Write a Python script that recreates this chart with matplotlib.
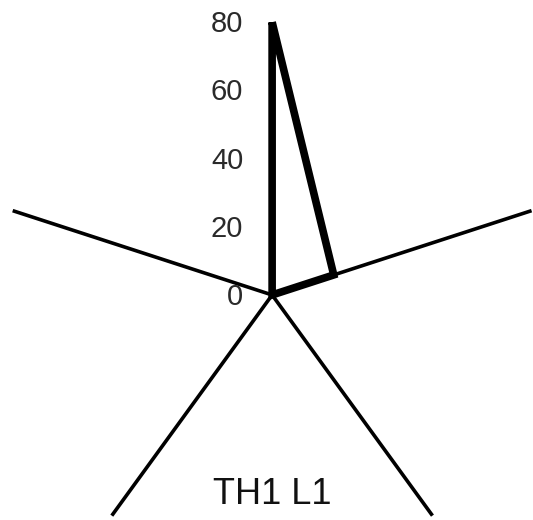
import numpy as np
import matplotlib
matplotlib.use("Agg")
import matplotlib.pyplot as plt

# 5本の軸（上から時計回り）
axis_names = ["A1", "A2", "A3", "A4", "A5"]
values = [80, 19, 0, 0, 0]
ticks = [0, 20, 40, 60, 80]
title = "TH1 L1"
r_max = 80

plt.rcParams["font.family"] = ["Liberation Sans", "DejaVu Sans"]

n = len(axis_names)
angles = np.deg2rad(90 - 360 / n * np.arange(n))

fig = plt.figure(figsize=(5.33, 5.20), dpi=100)
ax = fig.add_axes([0, 0, 1, 1])
ax.set_xlim(-79.8, 76.5)
ax.set_ylim(-66.0, 86.5)
ax.set_aspect("equal")
ax.axis("off")

# 軸線
for a in angles:
    ax.plot([0, r_max * np.cos(a)], [0, r_max * np.sin(a)],
            color="black", lw=2.6, solid_capstyle="butt", zorder=2)

# データ多角形
v = np.array(values + values[:1], dtype=float)
ang = np.concatenate([angles, angles[:1]])
ax.plot(v * np.cos(ang), v * np.sin(ang), color="black", lw=5.5,
        solid_joinstyle="miter", solid_capstyle="butt", zorder=3)

# 目盛りラベル
for t in ticks:
    ax.text(-8.5, t - 0.6, str(t), ha="right", va="center",
            fontsize=21, color="#2a2a2a")

ax.text(0.51, 1 - 494 / 520, title, transform=ax.transAxes,
        ha="center", va="center", fontsize=26, color="#111111")

fig.savefig("out.png", dpi=100, facecolor="white")
